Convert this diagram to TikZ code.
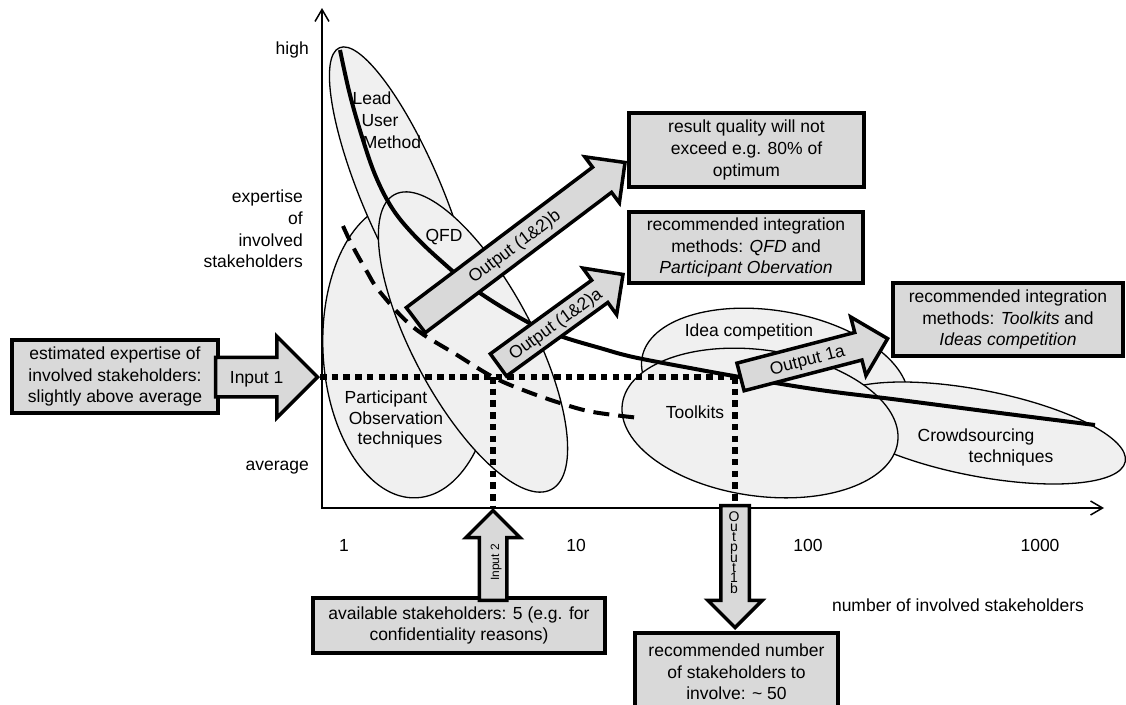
\documentclass[tikz,border=0pt]{standalone}
\usepackage{fontspec}
\setmainfont{Liberation Sans}
\usetikzlibrary{shapes.arrows,arrows.meta}
\definecolor{boxgray}{HTML}{D9D9D9}
\definecolor{ellgray}{HTML}{F0F0F0}
\begin{document}
\begin{tikzpicture}[x=1pt,y=1pt,
  every node/.style={font=\fontsize{17.5}{21.7}\selectfont},
  ell/.style={draw=black, line width=1.3pt, fill=ellgray},
  infobox/.style={draw=black, line width=3.5pt, fill=boxgray, align=center, inner sep=2pt},
  blockarrow/.style={single arrow, draw=black, line width=3.5pt, fill=boxgray,
     inner xsep=2pt, inner ysep=0pt, single arrow head extend=#1,
     single arrow tip angle=90, minimum width=1pt},
  lbl/.style={anchor=base, inner sep=0pt},
  trend/.style={line width=4pt},
  guess/.style={line width=4pt, dash pattern=on 16pt off 9pt},
  guide/.style={line width=6.5pt, dash pattern=on 6.5pt off 5.2pt},
  axisline/.style={line width=1.5pt,
     {Straight Barb[length=12pt,width=14pt]}-{Straight Barb[length=12pt,width=14pt]}},
]
\useasboundingbox (0,0) rectangle (1126,-704);

% ---------- method ellipses ----------
\draw[ell, rotate around={93:(409,-350)}] (409,-350) ellipse [x radius=148, y radius=86];
\draw[ell, rotate around={113:(402,-195)}] (402,-195) ellipse [x radius=160, y radius=40];
\draw[ell, rotate around={118:(473,-342)}] (473,-342) ellipse [x radius=167, y radius=60];
\draw[ell, rotate around={-10:(775,-381)}] (775,-381) ellipse [x radius=135, y radius=70];
\draw[ell, rotate around={-11:(978,-433)}] (978,-433) ellipse [x radius=150, y radius=43];
\draw[ell, rotate around={-8:(760,-423)}] (760,-423) ellipse [x radius=139, y radius=73];

% ---------- ellipse labels ----------
\node[lbl] (lead1) at (372,-104) {Lead};
\node[lbl] (lead2) at (380,-126) {User};
\node[lbl] (lead3) at (392,-148) {Method};
\node[lbl] (qfd) at (444,-241) {QFD};
\node[lbl] (po1) at (386,-403) {Participant};
\node[lbl] (po2) at (396,-424) {Observation};
\node[lbl] (po3) at (400,-444) {techniques};
\node[lbl] (idea) at (749,-336) {Idea competition};
\node[lbl] (tool) at (695,-418) {Toolkits};
\node[lbl] (cs1) at (976,-441) {Crowdsourcing};
\node[lbl] (cs2) at (1011,-462) {techniques};

% ---------- curves ----------
\draw[trend] plot[smooth, tension=0.6] coordinates {(340,-50) (350,-95) (363,-140) (376,-177)
  (392,-208) (412,-233) (440,-260) (480,-293) (533,-325) (563,-337) (600,-348) (633,-357)
  (690,-368) (740,-377) (820,-390) (900,-400) (1000,-413) (1095,-425)};
\draw[guess] plot[smooth, tension=0.6] coordinates {(343,-226) (352,-245) (366,-270) (380,-292)
  (413,-327) (457,-355) (493,-377) (523,-390) (560,-403) (593,-412) (640,-418)};

% ---------- axes ----------
\coordinate (ytop) at (322,-8);
\coordinate (orig) at (322,-508);
\coordinate (xend) at (1104,-508);
\draw[axisline] (ytop) -- (orig) -- (xend);

\node[anchor=east, inner sep=0pt] (high) at (309,-50) {high};
\node[anchor=east, align=right, inner sep=0pt] (exp) at (303,-229) {expertise\\of\\involved\\stakeholders};
\node[anchor=east, inner sep=0pt] (avg) at (309,-468) {average};
\node[lbl] (t1) at (344,-551) {1};
\node[lbl] (t10) at (576,-551) {10};
\node[lbl] (t100) at (808,-551) {100};
\node[lbl] (t1000) at (1040,-551) {1000};
\node[lbl] (xlab) at (958,-611) {number of involved stakeholders};

% ---------- boxes ----------
\node[infobox, minimum width=206, minimum height=73] (bin) at (115,-376.5)
  {estimated expertise of\\involved stakeholders:\\slightly above average};
\node[infobox, minimum width=235, minimum height=74] (bq) at (746.5,-150)
  {result quality will not\\exceed e.g. 80\% of\\optimum};
\node[infobox, minimum width=234, minimum height=71] (bm1) at (746,-247.5)
  {recommended integration\\methods: \textit{QFD} and\\\textit{Participant Obervation}};
\node[infobox, minimum width=230, minimum height=73] (bm2) at (1008,-319.5)
  {recommended integration\\methods: \textit{Toolkits} and\\\textit{Ideas competition}};
\node[infobox, minimum width=292, minimum height=55] (bav) at (459,-625.5)
  {available stakeholders: 5 (e.g. for\\confidentiality reasons)};
\node[infobox, minimum width=203, minimum height=78] (bnum) at (736.5,-672)
  {recommended number\\of stakeholders to\\involve: \textasciitilde{} 50};

% ---------- guide lines ----------
\coordinate (c1) at (493,-377);
\coordinate (c2) at (735,-377);
\coordinate (in1tip) at (320,-377);
\coordinate (in2tip) at (493,-508);
\coordinate (o1btop) at (735,-508);
\draw[guide] (in1tip) -- (c2);
\draw[guide] (c1) -- (in2tip);
\draw[guide] (c2) -- (o1btop);

% ---------- block arrows ----------
\node[blockarrow=21pt, text height=24pt, text depth=12pt, minimum height=102pt,
  anchor=tip] (in1) at (in1tip) {Input 1};
\node[blockarrow=13.5pt, text height=18pt, text depth=6pt, minimum height=90pt,
  anchor=tip, rotate=90, font=\fontsize{12}{12}\selectfont] (in2) at (in2tip) {Input 2};
\node[blockarrow=13pt, text height=20pt, text depth=8pt, minimum height=262pt,
  anchor=tip, rotate=37] (o12b) at (627,-161) {Output (1\&2)b};
\node[blockarrow=15pt, text height=18pt, text depth=6pt, minimum height=154pt,
  anchor=tip, rotate=36] (o12a) at (625,-273) {Output (1\&2)a};
\node[blockarrow=16pt, text height=18.5pt, text depth=6.5pt, minimum height=152pt,
  anchor=tip, rotate=14.6] (o1a) at (890,-338) {Output 1a};
\node[blockarrow=13pt, text height=12.5pt, text depth=12.5pt, minimum height=122pt,
  anchor=tip, rotate=-90] (o1b) at (735,-630) {};
\node[align=center, inner sep=0pt, font=\fontsize{14}{9.9}\selectfont] (o1btext) at (734,-553)
  {O\\u\\t\\p\\u\\t\\1\\b};
\end{tikzpicture}
\end{document}
